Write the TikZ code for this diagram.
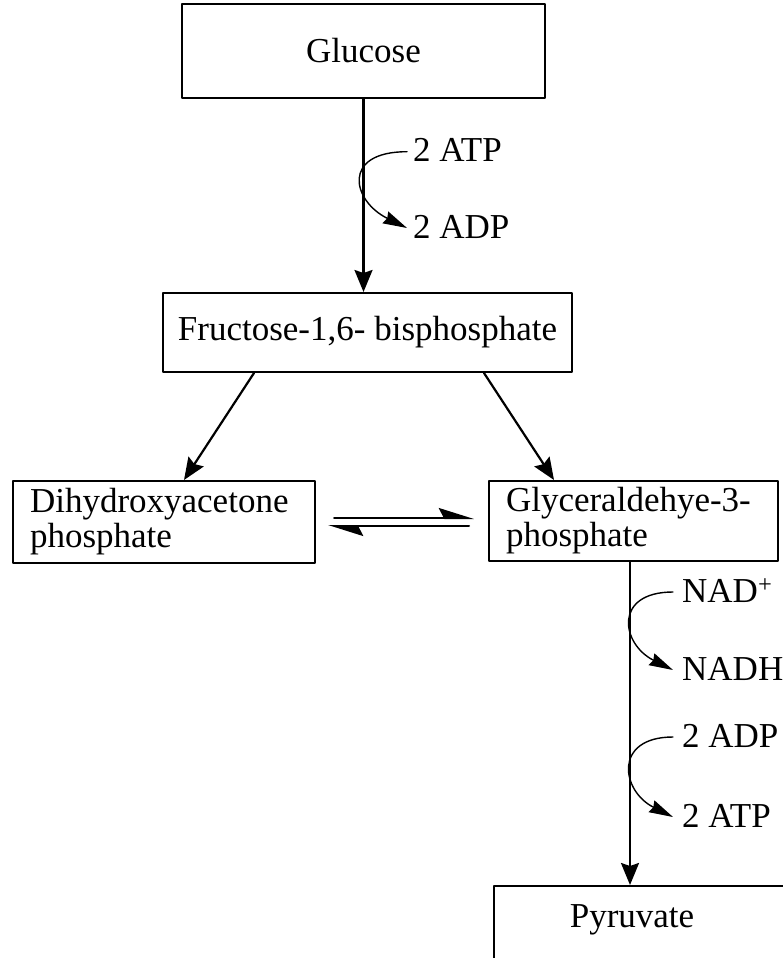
\documentclass[tikz,border=0pt]{standalone}
\usepackage{fontspec}
\setmainfont{Liberation Serif}
\usetikzlibrary{arrows.meta}

\tikzset{
  box/.style={draw,line width=2pt,rectangle,inner sep=0pt},
  flow/.style={line width=2.2pt,-{Stealth[length=22pt,width=18pt,inset=3pt]}},
  side/.style={line width=1.4pt,-{Stealth[length=24pt,width=13pt,inset=2pt]}},
  harp/.style={line width=2pt,-{Stealth[harpoon,length=32pt,width=20pt,inset=5pt]}},
  mol/.style={inner sep=0pt,text height=20pt,text depth=0pt,anchor=base west},
}

\begin{document}
\begin{tikzpicture}[x=1pt,y=1pt,line cap=round,line join=round,
  font=\fontsize{35}{35}\selectfont]
\useasboundingbox (0,0) rectangle (783,-958);
\clip (0,0) rectangle (783,-958);

% boxes
\node[box,minimum width=363pt,minimum height=94pt] (glucose) at (363.5,-51) {Glucose};
\node[box,minimum width=409pt,minimum height=79pt] (fructose) at (367.5,-332.5) {Fructose-1,6- bisphosphate};
\node[box,minimum width=302pt,minimum height=82pt,align=left,text width=268pt] (dhap) at (164,-522)
  {Dihydroxyacetone\\phosphate};
\node[box,minimum width=289pt,minimum height=80pt,align=left,text width=255pt] (g3p) at (633.5,-521)
  {Glyceraldehye-3-\\phosphate};
\node[box,anchor=north west,minimum width=330pt,minimum height=150pt] (pyr) at (493,-885) {};
\node (pyrtext) at ([shift={(139,-35)}]pyr.north west) {Pyruvate};

% side molecules
\node[mol] (atp1) at (413,-161.7) {2 ATP};
\node[mol] (adp1) at (413,-238) {2 ADP};
\node[mol] (nad) at (682,-602) {NAD\textsuperscript{+}};
\node[mol] (nadh) at (682,-680) {NADH};
\node[mol] (adp2) at (682,-747) {2 ADP};
\node[mol] (atp2) at (682,-827) {2 ATP};

% main arrows
\draw[flow] (glucose.south) -- (glucose.south |- fructose.north);
\draw[flow] ([xshift=92pt]fructose.south west) -- ([xshift=172pt]dhap.north west);
\draw[flow] ([xshift=-89pt]fructose.south east) -- ([xshift=66pt]g3p.north west);
\draw[flow] ([xshift=-3.5pt]g3p.south) -- ([xshift=-3.5pt]g3p.south |- pyr.north);

% equilibrium
\draw[harp] ([xshift=18pt,yshift=4pt]dhap.east) -- ([xshift=-14pt,yshift=3pt]g3p.west);
\draw[harp] ([xshift=-19pt,yshift=-5pt]g3p.west) -- ([xshift=12pt,yshift=-4pt]dhap.east);

% cofactors
\draw[side] ([xshift=-6pt]atp1.west) .. controls +(-66,0) and +(-55,27) .. ([xshift=-6pt]adp1.west);
\draw[side] ([xshift=-9pt]nad.west) .. controls +(-60,0) and +(-52,26) .. ([xshift=-9pt]nadh.west);
\draw[side] ([xshift=-9pt]adp2.west) .. controls +(-60,0) and +(-52,26) .. ([xshift=-9pt]atp2.west);
\end{tikzpicture}
\end{document}
